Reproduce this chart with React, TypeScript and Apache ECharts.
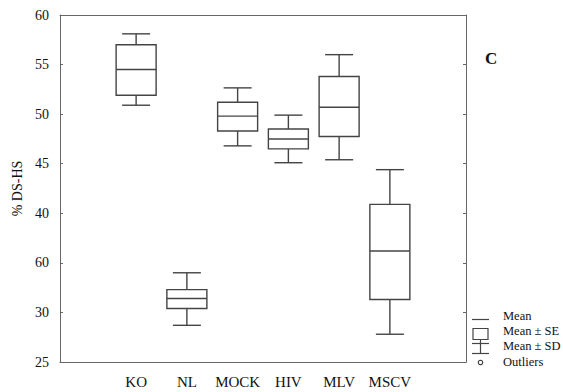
import React, { useEffect, useRef } from "react";
import * as echarts from "echarts";

const categories = ["", "KO", "NL", "MOCK", "HIV", "MLV", "MSCV", ""];
const groupIndex = [1, 2, 3, 4, 5, 6];
const means = [54.5, 31.4, 49.8, 47.5, 50.7, 36.2];
const seLow = [51.9, 30.4, 48.3, 46.5, 47.75, 31.3];
const seHigh = [57.0, 32.3, 51.2, 48.5, 53.8, 40.9];
const sdLow = [50.9, 28.7, 46.8, 45.1, 45.4, 27.8];
const sdHigh = [58.1, 34.0, 52.65, 49.9, 56.0, 44.4];
const outlierX = [2];
const outlierY = [36.2];
const yTickValues = [25, 30, 35, 40, 45, 50, 55, 60];
const yTickLabels = ["25", "30", "60", "40", "45", "50", "55", "60"];
const legendLabels = ["Mean", "Mean \u00b1 SE", "Mean \u00b1 SD", "Outliers"];

const FONT = "'Liberation Serif', 'Times New Roman', serif";
const LINE = "#444";
const AXIS = "#666";

export default function App() {
  const ref = useRef<HTMLDivElement>(null);
  useEffect(() => {
    if (!ref.current) return;
    const chart = echarts.init(ref.current, undefined, { renderer: "svg" });
    const boxData = groupIndex.map((g, i) => [g, sdLow[i], seLow[i], means[i], seHigh[i], sdHigh[i]]);
    const labelMap: Record<string, string> = {};
    yTickValues.forEach((v, i) => (labelMap[String(v)] = yTickLabels[i]));

    const commonX = {
      type: "category",
      data: categories,
      boundaryGap: true,
      axisLine: { lineStyle: { color: AXIS, width: 1 } },
      axisTick: { alignWithLabel: true, inside: true, length: 3, interval: 0, lineStyle: { color: AXIS } },
      splitLine: { show: false },
    };
    const commonY = {
      type: "value",
      min: 25,
      max: 60,
      interval: 5,
      axisLine: { show: true, lineStyle: { color: AXIS, width: 1 } },
      axisTick: { show: true, inside: true, length: 3, lineStyle: { color: AXIS } },
      splitLine: { show: false },
    };

    const lx = 472;
    const lx2 = 489;
    const lmid = (lx + lx2) / 2;
    const st = { stroke: LINE, lineWidth: 1.2, fill: "none" };

    chart.setOption({
      animation: false,
      backgroundColor: "#fff",
      grid: { left: 60, top: 15, right: 97, bottom: 30, containLabel: false },
      xAxis: [
        {
          ...commonX,
          position: "bottom",
          axisLabel: { color: "#111", fontFamily: FONT, fontSize: 15, margin: 12, interval: 0 },
        },
        { ...commonX, position: "top", axisLabel: { show: false } },
      ],
      yAxis: [
        {
          ...commonY,
          position: "left",
          name: "% DS-HS",
          nameLocation: "middle",
          nameGap: 34,
          nameRotate: 90,
          nameTextStyle: { color: "#111", fontFamily: FONT, fontSize: 14 },
          axisLabel: {
            color: "#111",
            fontFamily: FONT,
            fontSize: 14,
            margin: 11,
            formatter: (v: number) => labelMap[String(v)] ?? String(v),
          },
        },
        { ...commonY, position: "right", axisLabel: { show: false } },
      ],
      series: [
        {
          type: "custom",
          xAxisIndex: 0,
          yAxisIndex: 0,
          data: boxData,
          renderItem: (params: any, api: any) => {
            const x = api.value(0);
            const pLow = api.coord([x, api.value(1)]);
            const pSeL = api.coord([x, api.value(2)]);
            const pMean = api.coord([x, api.value(3)]);
            const pSeH = api.coord([x, api.value(4)]);
            const pHigh = api.coord([x, api.value(5)]);
            const cx = pMean[0];
            const bw = 40;
            const cw = 28;
            const style = { stroke: LINE, lineWidth: 1.4, fill: "none" };
            return {
              type: "group",
              children: [
                { type: "line", shape: { x1: cx, y1: pSeH[1], x2: cx, y2: pHigh[1] }, style },
                { type: "line", shape: { x1: cx, y1: pSeL[1], x2: cx, y2: pLow[1] }, style },
                { type: "line", shape: { x1: cx - cw / 2, y1: pHigh[1], x2: cx + cw / 2, y2: pHigh[1] }, style },
                { type: "line", shape: { x1: cx - cw / 2, y1: pLow[1], x2: cx + cw / 2, y2: pLow[1] }, style },
                {
                  type: "rect",
                  shape: { x: cx - bw / 2, y: pSeH[1], width: bw, height: pSeL[1] - pSeH[1] },
                  style: { ...style, fill: "#fff" },
                },
                { type: "line", shape: { x1: cx - bw / 2, y1: pMean[1], x2: cx + bw / 2, y2: pMean[1] }, style },
              ],
            };
          },
        },
        {
          type: "scatter",
          data: outlierX.map((x, i) => [x, outlierY[i]]),
          symbol: "emptyCircle",
          symbolSize: 6,
          itemStyle: { color: "#fff", borderColor: LINE, borderWidth: 1.2 },
        },
      ],
      graphic: [
        {
          type: "text",
          x: 485,
          y: 58,
          style: { text: "C", font: `bold 17px ${FONT}`, fill: "#111", verticalAlign: "middle" },
        },
        { type: "line", shape: { x1: lx, y1: 319.5, x2: lx2, y2: 319.5 }, style: st },
        { type: "rect", shape: { x: lx + 1, y: 328.5, width: lx2 - lx - 2, height: 11 }, style: st },
        { type: "line", shape: { x1: lx, y1: 343.5, x2: lx2, y2: 343.5 }, style: st },
        { type: "line", shape: { x1: lmid, y1: 339.5, x2: lmid, y2: 353.5 }, style: st },
        { type: "line", shape: { x1: lx, y1: 353.5, x2: lx2, y2: 353.5 }, style: st },
        { type: "circle", shape: { cx: lmid, cy: 362.5, r: 2.2 }, style: st },
        ...legendLabels.map((t, i) => ({
          type: "text",
          x: 503,
          y: [315.7, 331, 345.7, 361.7][i],
          style: { text: t, font: `12.5px ${FONT}`, fill: "#111", verticalAlign: "middle" },
        })),
      ],
    });
    return () => chart.dispose();
  }, []);
  return (
    <div
      ref={ref}
      style={{ position: "fixed", left: 0, top: 0, width: 563, height: 392, background: "#fff" }}
    />
  );
}
